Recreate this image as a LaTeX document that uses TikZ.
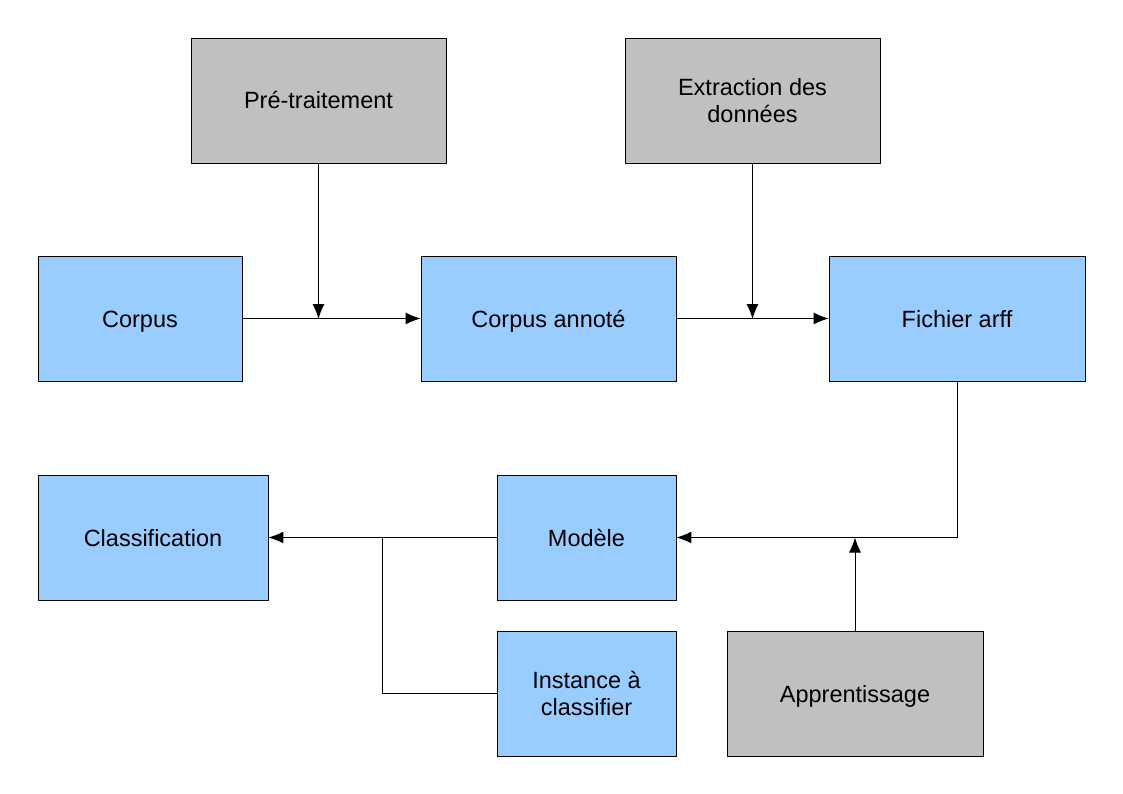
\documentclass[tikz,border=0pt]{standalone}
\usepackage{fontspec}
\setmainfont{Liberation Sans}
\usetikzlibrary{arrows.meta}
\definecolor{boxblue}{HTML}{99CCFF}
\definecolor{boxgrey}{HTML}{C0C0C0}
\begin{document}
\begin{tikzpicture}[x=1pt,y=-1pt,
  base/.style={draw=black,line width=0.8pt,inner sep=0pt,align=center,
    font=\fontsize{23.5}{27}\selectfont},
  oneline/.style={text height=17pt,text depth=0pt},
  bluebox/.style={base,fill=boxblue},
  greybox/.style={base,fill=boxgrey},
  conn/.style={line width=1pt,draw=black},
  arr/.style={conn,-{Latex[length=15pt,width=12pt]}}]
\useasboundingbox (0,0) rectangle (1123,794);
\fill[white] (0,0) rectangle (1123,794);
% boxes
\node[greybox,oneline,minimum width=255,minimum height=125] (pre) at (318.5,100.5) {Pré-traitement};
\node[greybox,minimum width=255,minimum height=125] (ext) at (752.5,100.5) {Extraction des\\données};
\node[bluebox,oneline,minimum width=204,minimum height=125] (corpus) at (140,318.5) {Corpus};
\node[bluebox,oneline,minimum width=255,minimum height=125] (annot) at (548.5,318.5) {Corpus annoté};
\node[bluebox,oneline,minimum width=256,minimum height=125] (arff) at (957,318.5) {Fichier arff};
\node[bluebox,oneline,minimum width=230,minimum height=125] (classif) at (153,537.5) {Classification};
\node[bluebox,oneline,minimum width=179,minimum height=125] (modele) at (586.5,537.5) {Modèle};
\node[bluebox,minimum width=179,minimum height=125] (inst) at (586.5,693.5) {Instance à\\classifier};
\node[greybox,oneline,minimum width=256,minimum height=125] (app) at (855,693.5) {Apprentissage};
% junction coordinates
\coordinate (j1) at (318.5,319);
\coordinate (j2) at (752.5,319);
\coordinate (j3) at (855,537.5);
\coordinate (j4) at (382,537.5);
% connectors
\draw[arr] (corpus.east) -- (annot.west);
\draw[arr] (pre.south) -- (j1);
\draw[arr] (annot.east) -- (arff.west);
\draw[arr] (ext.south) -- (j2);
\draw[arr] (arff.south) |- (modele.east);
\draw[arr] (app.north) -- (j3);
\draw[arr] (modele.west) -- (classif.east);
\draw[conn] (inst.west) -| (j4);
\end{tikzpicture}
\end{document}
